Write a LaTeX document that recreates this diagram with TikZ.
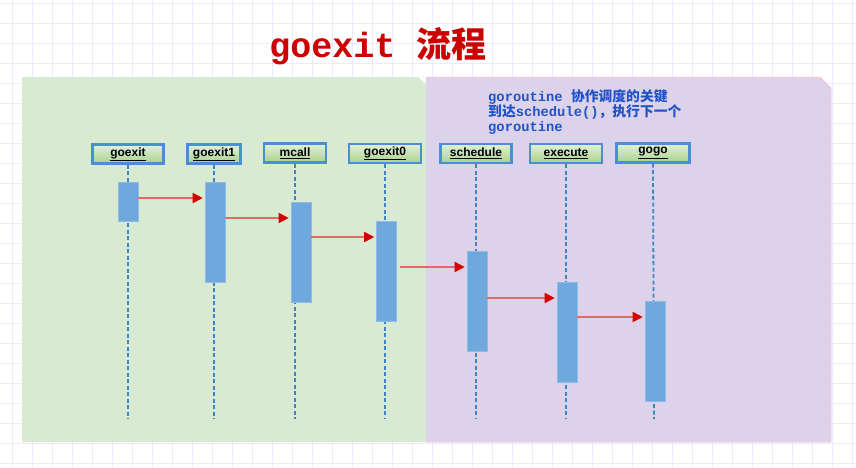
\documentclass[tikz,border=0pt]{standalone}
\usepackage{fontspec}
\setmainfont{Liberation Sans}
\newfontfamily\monof{Liberation Mono}
\newfontfamily\cjkf{Noto Sans CJK SC}
\usetikzlibrary{arrows.meta,calc}
\definecolor{gridc}{HTML}{ECEAFE}
\definecolor{greenp}{HTML}{D9EAD3}
\definecolor{purp}{HTML}{DCD3EA}
\definecolor{titlered}{HTML}{CC0000}
\definecolor{noteblue}{HTML}{2153C8}
\definecolor{hdrborder}{HTML}{4A8FD4}
\definecolor{hdrtop}{HTML}{E2F1D6}
\definecolor{hdrbot}{HTML}{A9D18E}
\definecolor{actfill}{HTML}{6FA8DC}
\definecolor{actdraw}{HTML}{8DBBEA}
\definecolor{lifec}{HTML}{3D85C6}
\definecolor{arrline}{HTML}{E06A6A}
\definecolor{arrhead}{HTML}{D40000}
\tikzset{
  hdr/.style={draw=hdrborder, line width=2.2pt, top color=hdrtop, bottom color=hdrbot,
    minimum height=19pt, inner sep=0pt, font=\fontsize{12}{14}\selectfont\bfseries},
  act/.style={fill=actfill, draw=actdraw, line width=0.6pt, minimum width=20pt, inner sep=0pt},
  life/.style={lifec, line width=1.8pt, dash pattern=on 4pt off 2.5pt},
  msg/.style={arrline, line width=1.7pt, shorten >=2pt,
    -{Triangle[length=10pt,width=10pt,color=arrhead]}},
}
\begin{document}
\begin{tikzpicture}[x=1pt,y=-1pt]
\useasboundingbox (0,0) rectangle (856,467);
\fill[white] (0,0) rectangle (856,467);
\foreach \x in {12,32,...,852} \draw[gridc, line width=0.9pt] (\x,0) -- (\x,467);
\foreach \y in {3,23,...,463} \draw[gridc, line width=0.9pt] (0,\y) -- (856,\y);
% panels
\fill[greenp] (22,77) -- (418,77) -- (426,85) -- (426,442) -- (22,442) -- cycle;
\fill[purp] (426,77) -- (820,77) -- (831,88) -- (831,442) -- (426,442) -- cycle;
\draw[red!25, line width=0.5pt] (426,77) -- (820,77) -- (831,88) -- (831,442) -- (426,442);
% title
\node[text=titlered, anchor=base, inner sep=0pt] (title) at (378,57)
  {\fontsize{35}{40}\selectfont\bfseries\monof goexit \cjkf 流程};
% note
\node[text=noteblue, anchor=north west, align=left, inner sep=0pt,
      font=\fontsize{13.8}{14.5}\selectfont\bfseries] (note) at (488,89)
  {{\monof goroutine }{\cjkf 协作调度的关键}\\
   {\cjkf 到达}{\monof schedule()}{\cjkf ，执行下一个}\\
   {\monof goroutine}};
% headers
\node[hdr, minimum width=71pt] (h1) at (128,154) {\underline{goexit}};
\node[hdr, minimum width=53pt] (h2) at (214,154) {\underline{goexit1}};
\node[hdr, minimum width=62pt] (h3) at (295,153) {\underline{mcall}};
\node[hdr, minimum width=72pt] (h4) at (385,153.5) {\underline{goexit0}};
\node[hdr, minimum width=71pt] (h5) at (476,153.5) {\underline{schedule}};
\node[hdr, minimum width=72pt] (h6) at (566,153.5) {\underline{execute}};
\node[hdr, minimum width=73pt] (h7) at (653,153) {\underline{gogo}};
% lifeline ends
\coordinate (e1) at (128,419);
\coordinate (e2) at (214,419);
\coordinate (e3) at (295,419);
\coordinate (e4) at (385,419);
\coordinate (e5) at (476,419);
\coordinate (e6) at (566,419);
\coordinate (e7) at (654,419);
\foreach \i in {1,...,7} \draw[life] (h\i.south) -- (e\i);
% activations
\node[act, minimum height=39pt] (a1) at (128,202) {};
\node[act, minimum height=100pt] (a2) at (215,232) {};
\node[act, minimum height=100pt] (a3) at (301,252) {};
\node[act, minimum height=100pt] (a4) at (386.5,271) {};
\node[act, minimum height=100pt] (a5) at (477,301) {};
\node[act, minimum height=100pt] (a6) at (567,332) {};
\node[act, minimum height=100pt] (a7) at (655,351) {};
% messages
\draw[msg] (a1.east |- 0,198) -- (a2.west |- 0,198);
\draw[msg] (a2.east |- 0,218) -- (a3.west |- 0,218);
\draw[msg] (a3.east |- 0,237) -- (a4.west |- 0,237);
\draw[msg] ($(a4.east |- 0,267)+(3,0)$) -- (a5.west |- 0,267);
\draw[msg] (a5.east |- 0,298) -- (a6.west |- 0,298);
\draw[msg] (a6.east |- 0,317) -- (a7.west |- 0,317);
\end{tikzpicture}
\end{document}
